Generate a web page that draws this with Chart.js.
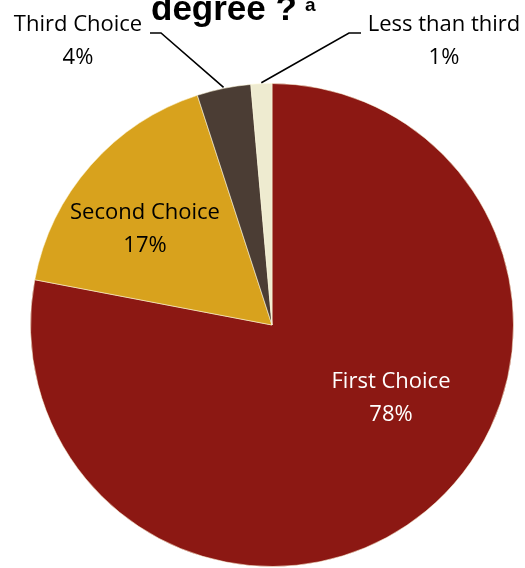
<!DOCTYPE html>
<html>
<head>
<meta charset="utf-8">
<script src="https://cdn.jsdelivr.net/npm/chart.js@4"></script>
<style>
  html, body { margin: 0; padding: 0; background: #fff; }
  #wrap { width: 525px; height: 568px; position: relative; }
</style>
</head>
<body>
<div id="wrap"><canvas id="pieChart"></canvas></div>
<script>
// data
const categories = ['First Choice', 'Second Choice', 'Third Choice', 'Less than third'];
const shares = [78, 17, 3.6, 1.4];
const sliceColors = ['#8c1813', '#d8a21d', '#4b3d34', '#eeebd0'];

// where each label sits (text annotations, not marks)
const labelPlacement = [
    { x: 391, y: 388, color: '#ffffff' },
    { x: 145, y: 219, color: '#000000' },
    { x: 78, y: 31, color: '#000000', leader: { x: 150, side: 'right' } },
    { x: 444, y: 31, color: '#000000', leader: { x: 361, side: 'left' } }
];

function shade(hex, amt) {
    const n = parseInt(hex.slice(1), 16);
    let r = (n >> 16) & 255, g = (n >> 8) & 255, b = n & 255;
    const f = c => Math.max(0, Math.min(255, Math.round(amt < 0 ? c * (1 + amt) : c + (255 - c) * amt)));
    return 'rgb(' + f(r) + ',' + f(g) + ',' + f(b) + ')';
}

// bevel-ish radial gradient per slice
function sliceFill(context) {
    const chart = context.chart;
    const base = sliceColors[context.dataIndex];
    const meta = chart.getDatasetMeta(0);
    const arc = meta.data[context.dataIndex];
    if (!arc || !arc.outerRadius) return base;
    const g = chart.ctx.createRadialGradient(arc.x, arc.y, 0, arc.x, arc.y, arc.outerRadius);
    g.addColorStop(0, base);
    g.addColorStop(0.9, base);
    g.addColorStop(0.955, shade(base, 0.08));
    g.addColorStop(0.985, shade(base, -0.3));
    g.addColorStop(1, shade(base, -0.55));
    return g;
}

const labelsPlugin = {
    id: 'pieLabels',
    afterDatasetsDraw(chart) {
        const ctx = chart.ctx;
        const meta = chart.getDatasetMeta(0);
        const total = shares.reduce((a, b) => a + b, 0);
        ctx.save();

        // title, cut off at the top like the source
        ctx.fillStyle = '#000';
        ctx.textBaseline = 'alphabetic';
        ctx.textAlign = 'left';
        ctx.font = 'bold 35px "Liberation Sans", Arial, sans-serif';
        ctx.fillText('degree ?', 151, 20);
        ctx.font = 'bold 19px "Liberation Sans", Arial, sans-serif';
        ctx.fillText('a', 305, 11);

        ctx.font = '22px "Open Sans", sans-serif';
        ctx.textAlign = 'center';
        categories.forEach((name, i) => {
            const p = labelPlacement[i];
            const pct = Math.round(shares[i] / total * 100) + '%';
            ctx.fillStyle = p.color;
            ctx.fillText(name, p.x, p.y);
            ctx.fillText(pct, p.x, p.y + 33);

            if (p.leader) {
                const arc = meta.data[i];
                const mid = (arc.startAngle + arc.endAngle) / 2;
                const ex = arc.x + Math.cos(mid) * (arc.outerRadius + 1);
                const ey = arc.y + Math.sin(mid) * (arc.outerRadius + 1);
                const ly = p.y + 2;
                const hx = p.leader.side === 'right' ? p.leader.x + 11 : p.leader.x - 12;
                ctx.strokeStyle = '#000';
                ctx.lineWidth = 1.6;
                ctx.beginPath();
                ctx.moveTo(p.leader.x, ly);
                ctx.lineTo(hx, ly);
                ctx.lineTo(ex, ey);
                ctx.stroke();
            }
        });
        ctx.restore();
    }
};

new Chart(document.getElementById('pieChart'), {
    type: 'pie',
    data: {
        labels: categories,
        datasets: [{
            data: shares,
            backgroundColor: sliceFill,
            borderColor: 'rgba(255,250,220,0.55)',
            borderWidth: 1
        }]
    },
    options: {
        responsive: true,
        maintainAspectRatio: false,
        animation: false,
        layout: {
            padding: { left: 30, right: 11, top: 83, bottom: 1 }
        },
        plugins: {
            legend: { display: false },
            tooltip: { enabled: false },
            title: { display: false }
        }
    },
    plugins: [labelsPlugin]
});
</script>
</body>
</html>
